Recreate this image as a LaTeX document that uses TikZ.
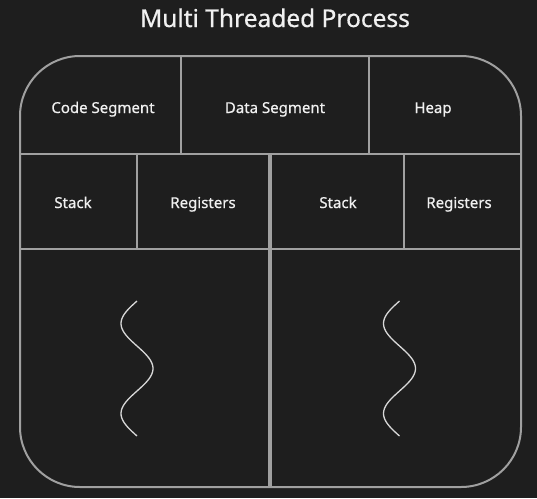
\documentclass[tikz,border=0pt]{standalone}
\usepackage{fontspec}
\setmainfont{Noto Sans}[FakeBold=0.6]
\definecolor{bgdark}{HTML}{1E1E1E}
\definecolor{edgegray}{HTML}{A0A0A0}
\definecolor{txtwhite}{HTML}{F0F0F0}
\definecolor{wavegray}{HTML}{D8D8D8}

\begin{document}
\begin{tikzpicture}[x=1pt, y=-1pt,
    cell/.style={text=txtwhite, anchor=base, inner sep=0pt, font=\fontsize{15}{18}\selectfont\bfseries},
    wall/.style={draw=edgegray, line width=2pt},
    thread/.style={wavegray, line width=1.3pt, smooth, samples=60}]
    \fill[bgdark] (0, 0) rectangle (537, 498);
    \useasboundingbox (0, 0) rectangle (537, 498);

    \node[cell, font=\fontsize{24.5}{28}\selectfont] (title) at (275, 27) {Multi Threaded Process};

    \draw[wall, rounded corners=60pt] (20, 56) rectangle (521, 487);
    \draw[wall] (20, 154) -- (521, 154);
    \draw[wall] (20, 249) -- (521, 249);
    \draw[wall] (181, 56) -- (181, 154);
    \draw[wall] (369, 56) -- (369, 154);
    \draw[wall] (137, 154) -- (137, 249);
    \draw[wall] (404, 154) -- (404, 249);
    \draw[wall, line width=4pt] (270, 154) -- (270, 487);

    \node[cell] (code) at (103, 113) {Code Segment};
    \node[cell] (data) at (275, 113) {Data Segment};
    \node[cell] (heap) at (433, 113) {Heap};

    \node[cell] (stackA) at (73, 208) {Stack};
    \node[cell] (regsA) at (203, 208) {Registers};
    \node[cell] (stackB) at (338, 208) {Stack};
    \node[cell] (regsB) at (459, 208) {Registers};

    \draw[thread, domain=0:540] plot ({137 - 16*sin(\x)}, {301 + \x/4});
    \draw[thread, domain=0:540] plot ({399.5 - 16*sin(\x)}, {301 + \x/4});
\end{tikzpicture}
\end{document}
